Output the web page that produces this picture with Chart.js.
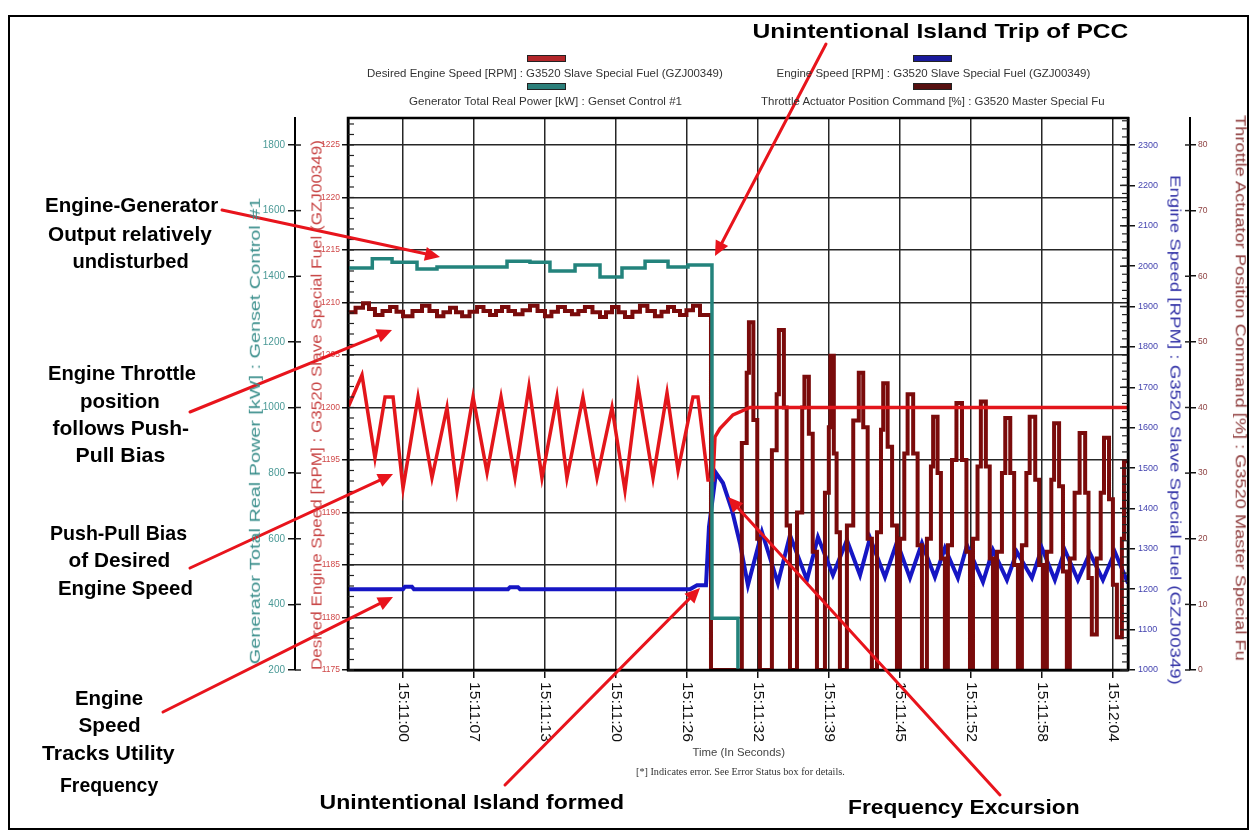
<!DOCTYPE html>
<html><head><meta charset="utf-8">
<script src="https://cdn.jsdelivr.net/npm/chart.js@4.4.1/dist/chart.umd.min.js"></script>
<style>
html,body{margin:0;padding:0;background:#fff;}
body{width:1254px;height:831px;position:relative;overflow:hidden;font-family:"Liberation Sans",Arial,sans-serif;}
#c{position:absolute;left:0;top:0;}
.frame{position:absolute;left:8px;top:15px;width:1237px;height:811px;border:2px solid #000;}
.t{position:absolute;white-space:nowrap;line-height:1;transform-origin:50% 50%;}
.ann{font-weight:bold;font-size:21px;color:#000;}
.leg{font-size:11px;color:#333;}
.ttl{font-size:14px;}
.sw{position:absolute;width:37px;height:5px;border:1px solid #222;}
</style></head>
<body>
<div class="frame"></div>
<canvas id="c" width="1254" height="831"></canvas>
<div id="txt"></div>
<script>
// ---------------- data ----------------
const timeTicks  = [0.4, 6.8, 13.2, 19.6, 26.0, 32.4, 38.8, 45.2, 51.6, 58.0, 64.4];
const timeLabels = ['15:11:00','15:11:07','15:11:13','15:11:20','15:11:26','15:11:32','15:11:39','15:11:45','15:11:52','15:11:58','15:12:04'];
const powerTicks    = [200,400,600,800,1000,1200,1400,1600,1800];
const desiredTicks  = [1175,1180,1185,1190,1195,1200,1205,1210,1215,1220,1225];
const speedTicks    = [1000,1100,1200,1300,1400,1500,1600,1700,1800,1900,2000,2100,2200,2300];
const throttleTicks = [0,10,20,30,40,50,60,70,80];

// Generator Total Real Power [kW] (step values)
const powerTime = [-4.53,-2.34,-0.56,1.69,3.49,9.80,11.87,13.67,15.93,18.18,20.16,22.24,24.31,26.11,28.27,30.61,65.76];
const powerKW   = [1425,1453,1443,1422,1428,1446,1443,1416,1434,1398,1425,1446,1428,1434,358,0,0];

// Desired Engine Speed [RPM]
const desiredTime = [-4.53,-3.27,-2.10,-1.19,-0.47,0.43,1.78,3.04,4.39,5.30,6.74,8.00,9.26,10.52,11.78,12.95,14.30,15.20,16.64,17.91,19.26,20.43,21.61,22.96,24.22,25.21,26.56,27.01,27.91,28.36,28.54,28.99,29.71,30.16,31.69,65.76];
const desiredRPM  = [1200,1203.1,1195.2,1201.0,1201.0,1192.3,1201.0,1193.3,1200.0,1192.1,1201.0,1193.8,1201.0,1193.3,1202.0,1193.3,1201.0,1193.3,1201.0,1193.3,1200.0,1192.1,1202.0,1193.3,1201.4,1194.0,1201.0,1201.0,1193.1,1193.1,1197.2,1198.0,1198.8,1199.3,1200.0,1200.0];

// Engine Speed [RPM]
const speedTime = [-4.53,0.43,0.60,1.23,1.41,9.89,10.07,10.79,10.97,26.29,26.92,27.73,28.00,28.63,29.26,30.07,30.79,31.51,32.77,34.21,35.30,36.83,37.82,39.17,40.43,41.61,42.51,43.86,44.94,46.11,47.19,48.36,49.26,50.43,51.25,52.69,53.59,54.85,55.75,57.10,58.00,59.17,60.07,61.24,62.32,63.50,64.58,65.76];
const speedRPM  = [1200,1200,1206,1206,1200,1200,1205,1205,1200,1200,1210,1210,1354,1488,1463,1396,1314,1210,1342,1215,1334,1223,1329,1235,1322,1235,1327,1230,1317,1228,1314,1230,1302,1228,1309,1218,1297,1223,1292,1228,1302,1223,1297,1223,1290,1223,1292,1215];

// Throttle Actuator Position Command [%] (step values)
const throttleTime = [
 -4.53,-3.85,-3.18,-2.64,-2.10,-1.42,-0.74,-0.16,0.43,1.28,2.14,2.81,3.49,4.07,4.66,5.20,5.75,6.42,7.10,7.68,8.27,8.81,9.35,9.93,10.52,11.20,11.87,12.55,13.22,13.80,14.39,15.02,15.65,16.23,16.82,17.50,18.18,18.72,19.26,19.85,20.43,21.10,21.78,22.45,23.13,23.72,24.31,24.85,25.39,25.97,26.56,27.19,28.18,
 30.96,31.40,31.60,32.00,32.35,32.59,
 33.67,34.10,34.30,34.75,35.00,35.30,
 35.93,36.40,36.60,37.00,37.35,37.73,
 38.45,38.80,38.95,39.25,39.50,39.80,
 40.43,41.00,41.50,41.90,42.30,42.68,
 43.14,43.50,43.70,44.10,44.50,44.94,
 45.21,45.60,45.90,46.40,46.80,47.19,
 47.64,48.00,48.20,48.60,48.90,49.26,
 49.53,49.90,50.30,50.80,51.20,51.52,
 51.79,52.20,52.50,52.95,53.30,53.59,
 53.95,54.40,54.70,55.15,55.50,55.84,
 56.20,56.60,56.90,57.40,57.75,58.09,
 58.45,58.85,59.10,59.55,59.90,60.25,
 60.52,60.95,61.40,61.90,62.20,62.50,
 62.95,63.30,63.60,64.05,64.40,64.76,
 65.21,65.40,65.76];
const throttlePct = [
 54.5,55.2,55.9,55.0,54.1,54.7,55.3,54.6,53.9,54.7,55.5,54.7,53.9,54.5,55.2,54.5,53.9,54.6,55.3,54.7,54.1,54.7,55.3,54.7,54.2,54.8,55.5,54.7,53.9,54.6,55.3,54.7,54.2,54.7,55.3,54.5,53.8,54.5,55.3,54.5,53.8,54.6,55.5,54.7,53.9,54.6,55.3,54.7,54.1,54.8,55.5,54.1,0,
 34.6,45.3,53.0,38.1,20.0,0,
 33.5,42.0,51.8,40.0,22.0,0,
 24.0,40.0,44.7,36.0,18.0,0,
 27.0,37.0,47.9,33.0,21.0,0,
 22.0,38.0,45.3,37.0,20.0,0,
 21.0,36.6,43.7,34.0,22.0,0,
 20.0,33.0,42.0,33.0,19.0,0,
 20.0,31.0,38.6,30.0,17.0,0,
 19.0,32.0,40.7,32.0,18.0,0,
 20.0,31.0,40.9,31.0,17.0,0,
 18.0,30.0,38.4,30.0,16.0,0,
 19.0,30.0,38.6,29.0,16.0,0,
 18.0,29.0,37.6,28.0,15.0,0,
 17.0,27.0,36.1,27.0,14.0,5.4,
 17.0,27.0,35.4,26.0,13.0,5.0,
 20.0,31.8,31.8];

const seriesNames = [
 'Desired Engine Speed [RPM] : G3520 Slave Special Fuel (GZJ00349)',
 'Engine Speed [RPM] : G3520 Slave Special Fuel (GZJ00349)',
 'Generator Total Real Power [kW] : Genset Control #1',
 'Throttle Actuator Position Command [%] : G3520 Master Special Fu'
];
const COL = {desired:'#e3161b', speed:'#1616c4', power:'#23837c', throttle:'#7a0b0b'};

// ---------------- text overlays ----------------
const notes = [
 ['Unintentional Island Trip of PCC', 940, 30, 376],
 ['Engine-Generator', 131, 204, 173],
 ['Output relatively', 130, 233, 164],
 ['undisturbed', 130, 260, 116],
 ['Engine Throttle', 122, 372, 148],
 ['position', 120, 400, 80],
 ['follows Push-', 121, 427, 137],
 ['Pull Bias', 120, 454, 90],
 ['Push-Pull Bias', 118, 532, 137],
 ['of Desired', 119, 559, 102],
 ['Engine Speed', 125, 587, 135],
 ['Engine', 109, 697, 68],
 ['Speed', 109, 724, 62],
 ['Tracks Utility', 108, 752, 133],
 ['Frequency', 109, 784, 98],
 ['Unintentional Island formed', 472, 801, 305],
 ['Frequency Excursion', 964, 806, 232]
];
const arrows = [[826,44,715,256],[222,210,440,257],[190,412,392,330],[190,568,393,474],[163,712,393,597],[505,785,700,588],[1000,795,728,497]];

const txt = document.getElementById('txt');
function addText(str, cls, cx, cy, len, rot, color, extra){
  const d = document.createElement('div');
  d.className = 't ' + cls; d.textContent = str;
  if (color) d.style.color = color;
  if (extra) Object.assign(d.style, extra);
  txt.appendChild(d);
  const w = d.offsetWidth, h = d.offsetHeight;
  d.style.left = (cx - w/2) + 'px'; d.style.top = (cy - h/2) + 'px';
  d.style.transform = 'rotate(' + (rot||0) + 'deg) scaleX(' + (len/w) + ')';
}
function addSwatch(x, y, c){
  const s = document.createElement('div'); s.className='sw';
  s.style.left = x+'px'; s.style.top = y+'px'; s.style.background = c; txt.appendChild(s);
}
notes.forEach(n => addText(n[0], 'ann', n[1], n[2], n[3], 0));
addSwatch(527,55,'#b3262a'); addSwatch(913,55,'#1a1a9c');
addSwatch(527,83,'#2b7f7a'); addSwatch(913,83,'#561010');
addText(seriesNames[0], 'leg', 545, 73, 356, 0);
addText(seriesNames[1], 'leg', 933, 73, 314, 0);
addText(seriesNames[2], 'leg', 545, 101, 273, 0);
addText(seriesNames[3], 'leg', 933, 101, 344, 0);
addText('Generator Total Real Power [kW] : Genset Control #1', 'ttl', 255, 431, 467, -90, '#3b8f8c');
addText('Desired Engine Speed [RPM] : G3520 Slave Special Fuel (GZJ00349)', 'ttl', 316, 405, 530, -90, '#c94848');
addText('Engine Speed [RPM] : G3520 Slave Special Fuel (GZJ00349)', 'ttl', 1175, 430, 510, 90, '#3535a8');
addText('Throttle Actuator Position Command [%] : G3520 Master Special Fu', 'ttl', 1240, 388, 545, 90, '#8e3c3c');
addText('Time (In Seconds)', 'leg', 738, 752, 92, 0, '#444');
addText('[*] Indicates error. See Error Status box for details.', 'leg', 740, 771, 209, 0, '#333', {fontFamily:'"Liberation Serif","Times New Roman",serif'});

// ---------------- chart ----------------
Chart.defaults.font.family = '"Liberation Sans", Arial, sans-serif';
const pts = (t, v) => t.map((x, i) => ({x: x, y: v[i]}));
const fixTicks = arr => s => { s.ticks = arr.map(v => ({value: v})); };

const overlay = {
  id: 'overlay',
  afterDraw(chart){
    const {ctx, chartArea: a, scales} = chart;
    const ln = (x1,y1,x2,y2) => { ctx.beginPath(); ctx.moveTo(x1,y1); ctx.lineTo(x2,y2); ctx.stroke(); };
    ctx.save();
    ctx.strokeStyle = '#000'; ctx.lineWidth = 2.5;
    ctx.strokeRect(a.left, a.top, a.right - a.left, a.bottom - a.top);
    ctx.lineWidth = 1.2; ctx.strokeStyle = '#222';
    const yd = scales.yDesired, ys = scales.ySpeed, yp = scales.yPower, yt = scales.yThrottle;
    for (let v = 1175; v <= 1227; v++) { const y = yd.getPixelForValue(v); ln(a.left, y, a.left + 6, y); }
    for (let v = 1000; v <= 2360; v += 20) { const y = ys.getPixelForValue(v); ln(a.right, y, a.right - 6, y); }
    ctx.lineWidth = 1.5;
    speedTicks.forEach(v => { const y = ys.getPixelForValue(v); ln(a.right, y, a.right - 8, y); });
    powerTicks.forEach(v => { const y = yp.getPixelForValue(v); ln(yp.right, y, yp.right + 6, y); });
    throttleTicks.forEach(v => { const y = yt.getPixelForValue(v); ln(yt.left, y, yt.left - 5, y); });
    // x tick labels, rotated clockwise
    const xs = scales.x;
    ctx.fillStyle = '#111'; ctx.font = '14px "Liberation Sans", Arial, sans-serif';
    ctx.textAlign = 'left'; ctx.textBaseline = 'middle';
    xs.ticks.forEach((tk, i) => {
      const px = xs.getPixelForValue(tk.value);
      const s = timeLabels[i];
      ctx.save(); ctx.translate(px, a.bottom + 12); ctx.rotate(Math.PI / 2);
      const w = ctx.measureText(s).width; ctx.scale(60 / w, 1);
      ctx.fillText(s, 0, 0); ctx.restore();
    });
    // annotation arrows
    ctx.strokeStyle = '#e8141c'; ctx.fillStyle = '#e8141c'; ctx.lineWidth = 3; ctx.lineCap = 'round';
    arrows.forEach(([x1,y1,x2,y2]) => {
      const ang = Math.atan2(y2 - y1, x2 - x1), L = 15, W = 7;
      const bx = x2 - L * Math.cos(ang), by = y2 - L * Math.sin(ang);
      ln(x1, y1, bx, by);
      ctx.beginPath(); ctx.moveTo(x2, y2);
      ctx.lineTo(bx + W * Math.sin(ang), by - W * Math.cos(ang));
      ctx.lineTo(bx - W * Math.sin(ang), by + W * Math.cos(ang));
      ctx.closePath(); ctx.fill();
    });
    ctx.restore();
  }
};

const gridDark = '#262626';
new Chart(document.getElementById('c'), {
  type: 'line',
  data: { datasets: [
    {label: seriesNames[2], data: pts(powerTime, powerKW), yAxisID: 'yPower', borderColor: COL.power, borderWidth: 3.5, stepped: true, pointRadius: 0, order: 0},
    {label: seriesNames[0], data: pts(desiredTime, desiredRPM), yAxisID: 'yDesired', borderColor: COL.desired, borderWidth: 3.5, pointRadius: 0, tension: 0, order: 1},
    {label: seriesNames[3], data: pts(throttleTime, throttlePct), yAxisID: 'yThrottle', borderColor: COL.throttle, borderWidth: 4, stepped: true, pointRadius: 0, order: 2},
    {label: seriesNames[1], data: pts(speedTime, speedRPM), yAxisID: 'ySpeed', borderColor: COL.speed, borderWidth: 4, pointRadius: 0, tension: 0, order: 3}
  ]},
  options: {
    responsive: false, animation: false, events: [],
    layout: {padding: {left: 250, right: 0, top: 118, bottom: 71}},
    plugins: {legend: {display: false}, tooltip: {enabled: false}},
    scales: {
      x: {type: 'linear', position: 'bottom', min: -4.53, max: 65.76,
          afterBuildTicks: fixTicks(timeTicks), afterFit: s => { s.height = 90; },
          ticks: {display: false},
          grid: {color: gridDark, lineWidth: 1.5, tickLength: 8, tickColor: '#111'},
          border: {color: '#000', width: 2.5}},
      yPower: {type: 'linear', position: 'left', weight: 1, min: 200, max: 1882.3,
          afterBuildTicks: fixTicks(powerTicks), afterFit: s => { s.width = 45; },
          ticks: {color: '#4a9996', font: {size: 10}, padding: 3, callback: v => String(v)},
          grid: {drawOnChartArea: false, tickLength: 7, color: '#111', lineWidth: 1.5},
          border: {color: '#000', width: 2}},
      yDesired: {type: 'linear', position: 'left', weight: 0, min: 1175, max: 1227.57,
          afterBuildTicks: fixTicks(desiredTicks), afterFit: s => { s.width = 53; },
          ticks: {color: '#d04a4a', font: {size: 8.5}, padding: 2, callback: v => String(v)},
          grid: {drawOnChartArea: true, tickLength: 6, color: gridDark, lineWidth: 1.5, tickColor: '#111'},
          border: {color: '#000', width: 2.5}},
      ySpeed: {type: 'linear', position: 'right', weight: 0, min: 1000, max: 2366.9,
          afterBuildTicks: fixTicks(speedTicks), afterFit: s => { s.width = 62; },
          ticks: {color: '#4545b0', font: {size: 9}, padding: 3, callback: v => String(v)},
          grid: {drawOnChartArea: false, tickLength: 7, color: '#111', lineWidth: 1.5},
          border: {color: '#000', width: 2.5}},
      yThrottle: {type: 'linear', position: 'right', weight: 1, min: 0, max: 84.11,
          afterBuildTicks: fixTicks(throttleTicks), afterFit: s => { s.width = 64; },
          ticks: {color: '#8e4242', font: {size: 8.5}, padding: 2, callback: v => String(v)},
          grid: {drawOnChartArea: false, tickLength: 6, color: '#111', lineWidth: 1.5},
          border: {color: '#000', width: 2}}
    }
  },
  plugins: [overlay]
});
</script>
</body></html>
